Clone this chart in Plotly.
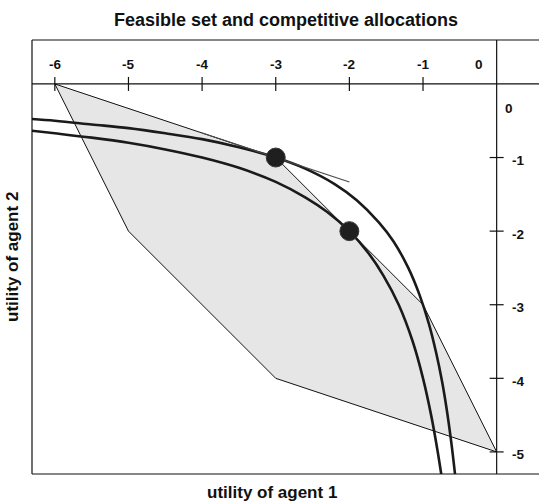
import plotly.graph_objects as go

# Feasible set of utility pairs (u1, u2), listed as polygon vertices
feasible_u1 = [-6, -3, -2, -1, 0, -3, -5, -6]
feasible_u2 = [0, -1, -2, -3, -5, -4, -2, 0]

# Indifference curve through the first competitive allocation
curve_a_u1 = [-6.40, -6.00, -5.50, -5.00, -4.50, -4.00, -3.50, -3.00, -2.60, -2.20,
              -1.90, -1.60, -1.40, -1.20, -1.05, -0.92, -0.82, -0.74, -0.68, -0.62,
              -0.57, -0.55]
curve_a_u2 = [-0.47, -0.50, -0.55, -0.60, -0.67, -0.75, -0.86, -1.00, -1.15, -1.36,
              -1.58, -1.88, -2.14, -2.50, -2.86, -3.26, -3.66, -4.05, -4.41, -4.84,
              -5.26, -5.45]

# Indifference curve through the second competitive allocation
curve_b_u1 = [-6.40, -6.00, -5.50, -5.00, -4.50, -4.00, -3.50, -3.00, -2.60, -2.30,
              -2.00, -1.74, -1.54, -1.33, -1.14, -1.00, -0.89, -0.80, -0.73]
curve_b_u2 = [-0.625, -0.67, -0.73, -0.80, -0.89, -1.00, -1.14, -1.33, -1.54, -1.74,
              -2.00, -2.30, -2.60, -3.00, -3.50, -4.00, -4.50, -5.00, -5.45]

# Price line supporting the first allocation
tangent_u1 = [-4, -2]
tangent_u2 = [-0.667, -1.333]

# Competitive allocations
alloc_u1 = [-3, -2]
alloc_u2 = [-1, -2]

# Axis ticks drawn through the origin
x_ticks = [-6, -5, -4, -3, -2, -1]
x_tick_text = ["-6", "-5", "-4", "-3", "-2", "-1"]
y_ticks = [-1, -2, -3, -4, -5]
y_tick_text = ["-1", "-2", "-3", "-4", "-5"]

FONT = "Liberation Sans, Arial, sans-serif"
INK = "#1a1a1a"

fig = go.Figure()

fig.add_trace(go.Scatter(
    x=feasible_u1, y=feasible_u2, mode="lines", fill="toself",
    fillcolor="#e6e6e6", line=dict(color="#111111", width=1),
    hoverinfo="skip", showlegend=False))

for cx, cy in ((curve_a_u1, curve_a_u2), (curve_b_u1, curve_b_u2)):
    fig.add_trace(go.Scatter(
        x=cx, y=cy, mode="lines", line=dict(color=INK, width=2.6, shape="spline"),
        hoverinfo="skip", showlegend=False))

fig.add_trace(go.Scatter(
    x=tangent_u1, y=tangent_u2, mode="lines",
    line=dict(color="#4a4a4a", width=1.2), hoverinfo="skip", showlegend=False))

fig.add_trace(go.Scatter(
    x=alloc_u1, y=alloc_u2, mode="markers",
    marker=dict(size=19, color="#1f1f1f", line=dict(color="#3a3a3a", width=1)),
    hoverinfo="skip", showlegend=False))

shapes = []
# Frame on left, top and bottom
for x0, y0, x1, y1 in ((0, 0, 0, 1), (0, 1, 1, 1), (0, 0, 1, 0)):
    shapes.append(dict(type="line", xref="paper", yref="paper",
                       x0=x0, y0=y0, x1=x1, y1=y1,
                       line=dict(color="#111111", width=1.2)))
# Axes through the origin
shapes.append(dict(type="line", xref="paper", yref="y", x0=0, x1=1, y0=0, y1=0,
                   line=dict(color="#111111", width=1.2)))
shapes.append(dict(type="line", xref="x", yref="paper", x0=0, x1=0, y0=0, y1=1,
                   line=dict(color="#111111", width=1.2)))
fig.update_layout(shapes=shapes)

annotations = []
tick_font = dict(family=FONT, size=13.5, color="#111111", weight="bold")
for v, t in zip(x_ticks, x_tick_text):
    fig.add_shape(type="line", xref="x", yref="y", x0=v, x1=v, y0=-0.095, y1=0.095,
                  line=dict(color="#111111", width=1.2))
    annotations.append(dict(x=v, y=0, xref="x", yref="y", text=t, showarrow=False,
                            yshift=19, font=tick_font))
annotations.append(dict(x=0, y=0, xref="x", yref="y", text="0", showarrow=False,
                        xshift=-18, yshift=19, font=tick_font))
for v, t in zip(y_ticks, y_tick_text):
    fig.add_shape(type="line", xref="x", yref="y", x0=-0.095, x1=0.095, y0=v, y1=v,
                  line=dict(color="#111111", width=1.2))
    annotations.append(dict(x=0, y=v, xref="x", yref="y", text=t, showarrow=False,
                            xanchor="left", xshift=13, yshift=-3, font=tick_font))
annotations.append(dict(x=0, y=0, xref="x", yref="y", text="0", showarrow=False,
                        xanchor="left", xshift=6, yshift=-25, font=tick_font))

annotations.append(dict(x=0.501, y=1, xref="paper", yref="paper",
                        text="Feasible set and competitive allocations",
                        showarrow=False, yanchor="middle", yshift=20,
                        font=dict(family=FONT, size=18, color="#111111", weight="bold")))
annotations.append(dict(x=0.473, y=0, xref="paper", yref="paper",
                        text="utility of agent 1", showarrow=False,
                        yanchor="middle", yshift=-18,
                        font=dict(family=FONT, size=17, color="#111111", weight="bold")))
annotations.append(dict(x=0, y=0.5, xref="paper", yref="paper",
                        text="utility of agent 2", showarrow=False, textangle=-90,
                        xanchor="center", xshift=-20,
                        font=dict(family=FONT, size=17, color="#111111", weight="bold")))

fig.update_layout(
    annotations=annotations,
    width=539, height=504,
    margin=dict(l=32, r=0, t=40, b=29.5),
    paper_bgcolor="white", plot_bgcolor="white",
    xaxis=dict(range=[-6.31, 0.575], visible=False, fixedrange=True),
    yaxis=dict(range=[-5.30, 0.597], visible=False, fixedrange=True),
    showlegend=False,
)

fig.write_html("out.html")
